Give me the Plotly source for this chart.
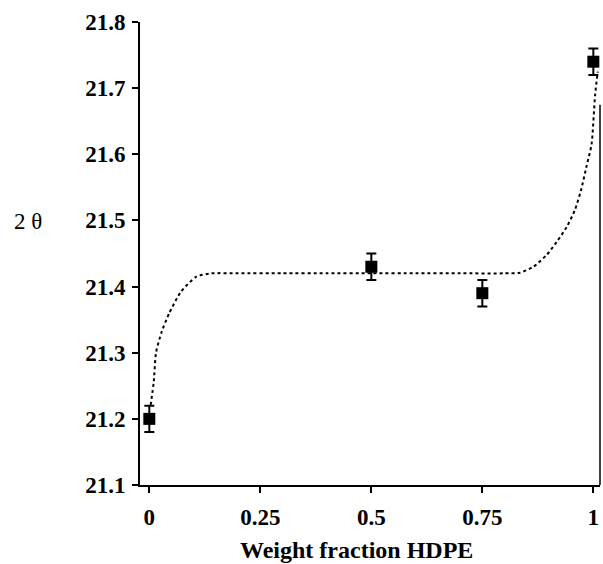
import plotly.graph_objects as go

# measured data
frac = [0.0, 0.5, 0.75, 1.0]
theta2 = [21.20, 21.43, 21.39, 21.74]
err = [0.02, 0.02, 0.02, 0.02]

# fitted (dotted) curve
fit_x = [0.003, 0.010, 0.015, 0.028, 0.045, 0.071, 0.106, 0.14, 0.2, 0.3, 0.4, 0.5,
         0.6, 0.7, 0.8, 0.835, 0.865, 0.895, 0.918, 0.94, 0.958, 0.972, 0.985,
         0.996, 1.004, 1.010]
fit_y = [21.221, 21.256, 21.300, 21.332, 21.360, 21.392, 21.415, 21.420, 21.420, 21.420,
         21.420, 21.420, 21.420, 21.420, 21.420, 21.421, 21.430, 21.448, 21.468, 21.490,
         21.515, 21.545, 21.583, 21.615, 21.690, 21.725]

xticks = [0, 0.25, 0.5, 0.75, 1]
xtick_text = ["0", "0.25", "0.5", "0.75", "1"]
yticks = [21.1, 21.2, 21.3, 21.4, 21.5, 21.6, 21.7, 21.8]
ytick_text = ["21.1", "21.2", "21.3", "21.4", "21.5", "21.6", "21.7", "21.8"]

font_b = "Liberation Serif, Times New Roman, serif"

fig = go.Figure()
fig.add_trace(go.Scatter(
    x=fit_x, y=fit_y, mode="lines",
    line=dict(color="black", width=2, dash="dot", shape="spline", smoothing=0.6),
    hoverinfo="skip", showlegend=False, cliponaxis=False))
fig.add_trace(go.Scatter(
    x=frac, y=theta2, mode="markers",
    marker=dict(symbol="square", size=12, color="black"),
    error_y=dict(type="data", array=err, visible=True, color="black",
                 thickness=2, width=5),
    showlegend=False, cliponaxis=False))

fig.update_layout(
    width=603, height=564,
    margin=dict(l=140, r=3, t=22, b=79),
    plot_bgcolor="white", paper_bgcolor="white",
    font=dict(family=font_b, color="black"),
    xaxis=dict(range=[-0.021, 1.015], tickvals=xticks, ticktext=xtick_text,
               showgrid=False, zeroline=False, showline=True, linecolor="black",
               linewidth=2, ticks="outside", ticklen=6, tickwidth=2, tickcolor="black",
               tickfont=dict(family=font_b, size=23, color="black", weight="bold"),
               ticklabelstandoff=4),
    yaxis=dict(range=[21.1, 21.8], tickvals=yticks, ticktext=ytick_text,
               showgrid=False, zeroline=False, showline=True, linecolor="black",
               linewidth=2, ticks="outside", ticklen=6, tickwidth=2, tickcolor="black",
               tickfont=dict(family=font_b, size=23, color="black", weight="bold"),
               ticklabelstandoff=2),
    shapes=[dict(type="line", xref="paper", yref="y", x0=1, x1=1, y0=21.1, y1=21.675,
                 line=dict(color="black", width=1.5))],
    annotations=[
        dict(text="<b>Weight fraction HDPE</b>", xref="paper", yref="paper",
             x=0.4696, y=-0.1406, xanchor="center", yanchor="middle", showarrow=False,
             font=dict(family=font_b, size=24, color="black")),
        dict(text="2 θ", xref="paper", yref="paper", x=-0.244, y=0.569,
             xanchor="center", yanchor="middle", showarrow=False,
             font=dict(family=font_b, size=23, color="black")),
    ],
)

fig.write_html("out.html", config={"displayModeBar": False},
               post_script="document.body.style.margin='0';")
